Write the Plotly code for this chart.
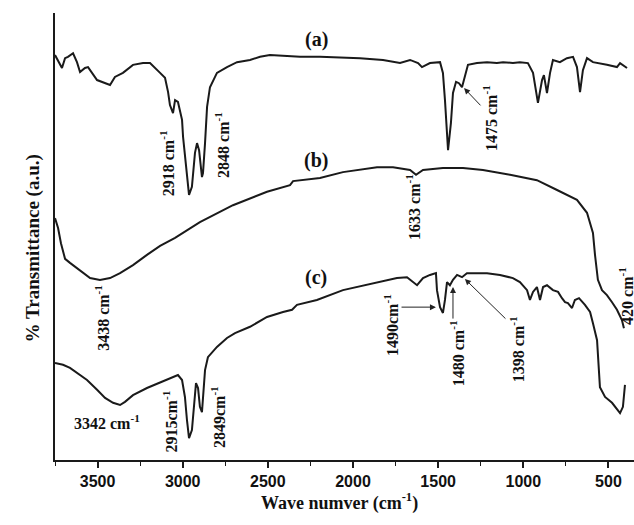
import plotly.graph_objects as go

# FTIR spectra: wavenumber (cm^-1) and transmittance (a.u., offset per sample)
wn_a = [3750, 3709, 3691, 3674, 3644, 3621, 3603, 3574, 3556, 3503, 3427, 3398, 3351, 3292,
        3233, 3192, 3133, 3104, 3086, 3075, 3057, 3045, 3028, 3004, 2998, 2975, 2963, 2946,
        2928, 2916, 2904, 2887, 2881, 2869, 2857, 2840, 2799, 2740, 2681, 2605, 2546, 2488,
        2311, 2194, 1959, 1824, 1724, 1665, 1618, 1595, 1548, 1489, 1472, 1460, 1442, 1425,
        1413, 1395, 1378, 1360, 1343, 1325, 1272, 1213, 1155, 1119, 1061, 1020, 973, 943,
        914, 890, 879, 861, 843, 826, 785, 744, 708, 685, 667, 650, 626, 591, 509, 450, 432, 391]
tr_a = [90.6, 87.7, 89.9, 90.2, 91.0, 89.0, 86.8, 87.7, 87.9, 85.0, 83.9, 85.7, 86.6, 88.4,
        88.8, 88.8, 86.6, 85.5, 82.3, 79.4, 77.6, 80.5, 80.1, 76.1, 72.3, 64.2, 59.3, 61.1,
        68.7, 70.9, 69.3, 63.3, 64.2, 70.9, 79.0, 83.4, 86.6, 87.9, 89.0, 89.5, 90.2, 90.6,
        90.2, 90.2, 89.9, 89.5, 88.8, 89.5, 88.8, 87.9, 88.8, 89.0, 86.6, 80.5, 69.3, 75.4,
        82.1, 84.6, 84.3, 83.4, 85.7, 88.4, 88.8, 89.0, 88.8, 89.0, 88.8, 89.0, 88.8, 86.6,
        79.9, 85.0, 86.1, 82.1, 86.6, 89.5, 89.0, 89.9, 90.2, 87.9, 82.3, 87.2, 89.9, 89.0,
        88.4, 87.9, 88.8, 87.7]

wn_b = [3750, 3732, 3715, 3703, 3691, 3662, 3603, 3544, 3486, 3427, 3368, 3292, 3210, 3133,
        3045, 2899, 2705, 2505, 2370, 2352, 2194, 2059, 1859, 1765, 1665, 1630, 1589, 1472,
        1354, 1237, 1078, 920, 802, 685, 626, 591, 579, 562, 538, 509, 479, 450, 421, 409]
tr_b = [54.1, 51.9, 48.5, 46.5, 45.0, 44.1, 42.5, 40.7, 40.3, 40.7, 41.8, 43.6, 45.9, 47.9,
        49.7, 53.2, 57.0, 60.0, 61.5, 62.4, 63.1, 64.4, 65.5, 65.5, 64.9, 63.8, 64.9, 65.3,
        65.3, 64.9, 63.8, 62.6, 60.4, 58.2, 55.3, 50.8, 45.9, 40.3, 38.0, 36.9, 35.3, 33.6,
        31.3, 29.5]

wn_c = [3750, 3703, 3662, 3621, 3562, 3503, 3456, 3409, 3368, 3339, 3292, 3210, 3133, 3057,
        3028, 3004, 2987, 2975, 2963, 2946, 2934, 2922, 2910, 2899, 2887, 2881, 2869, 2852,
        2799, 2740, 2693, 2605, 2505, 2411, 2358, 2329, 2212, 2059, 1859, 1742, 1683, 1665,
        1624, 1589, 1548, 1513, 1507, 1489, 1472, 1460, 1448, 1431, 1413, 1389, 1360, 1331,
        1213, 1137, 1061, 1020, 978, 961, 943, 920, 902, 884, 861, 826, 796, 773, 755, 738,
        714, 697, 673, 638, 608, 591, 567, 550, 520, 479, 450, 432, 415, 405, 403]
tr_c = [21.7, 21.3, 20.6, 19.5, 17.9, 15.7, 13.9, 12.8, 12.3, 13.0, 14.5, 16.1, 17.4, 18.6,
        19.0, 17.9, 14.1, 8.9, 4.9, 6.7, 11.9, 17.2, 16.1, 11.9, 10.7, 14.1, 20.1, 23.0,
        25.3, 27.3, 28.4, 29.8, 32.0, 33.1, 33.6, 34.7, 35.8, 38.0, 39.8, 40.7, 40.9, 40.3,
        39.1, 40.7, 41.4, 41.8, 38.0, 34.2, 32.9, 35.8, 39.8, 39.1, 40.3, 41.4, 40.9, 41.8,
        41.8, 41.4, 40.7, 39.8, 38.0, 35.8, 37.6, 38.7, 35.8, 38.7, 39.1, 38.0, 37.6, 36.2,
        35.3, 35.1, 34.0, 35.8, 36.2, 34.7, 33.1, 30.6, 26.8, 16.3, 14.1, 12.8, 11.2, 10.5,
        11.9, 15.0, 16.8]

# Sample labels (text, x, y)
sample_labels = [("(a)", 2215, 94.0), ("(b)", 2215, 67.1), ("(c)", 2215, 40.9)]

# Rotated band labels (text, x, y)
band_labels = [
    ("2918 cm<sup>-1</sup>", 3092, 66.4),
    ("2848 cm<sup>-1</sup>", 2769, 70.5),
    ("1475 cm<sup>-1</sup>", 1196, 76.5),
    ("1633 cm<sup>-1</sup>", 1648, 56.6),
    ("3438 cm<sup>-1</sup>", 3474, 31.8),
    ("2915cm<sup>-1</sup>", 3075, 8.6),
    ("2849cm<sup>-1</sup>", 2793, 9.6),
    ("1490cm<sup>-1</sup>", 1777, 30.2),
    ("1480 cm<sup>-1</sup>", 1389, 23.9),
    ("1398 cm<sup>-1</sup>", 1037, 24.8),
    ("420 cm<sup>-1</sup>", 397, 36.7),
]
# Horizontal band label
flat_label = ("3342 cm<sup>-1</sup>", 3445, 8.5)

# Arrows: (tail x, tail y, head x, head y)
arrows = [
    (1243, 79.0, 1348, 83.2),
    (1724, 34.2, 1513, 34.2),
    (1413, 31.3, 1413, 38.7),
    (1096, 31.3, 1343, 40.5),
]

x_ticks = [3500, 3000, 2500, 2000, 1500, 1000, 500]

line_style = dict(color="#1a1a1a", width=2)
serif = "Liberation Serif, Times New Roman, serif"

fig = go.Figure()
for wn, tr in [(wn_a, tr_a), (wn_b, tr_b), (wn_c, tr_c)]:
    fig.add_trace(go.Scatter(x=wn, y=tr, mode="lines", line=line_style,
                             showlegend=False, hoverinfo="skip"))

annotations = []
for txt, x, y in sample_labels:
    annotations.append(dict(text=txt, x=x, y=y, xref="x", yref="y", showarrow=False,
                            font=dict(family=serif, size=20, color="#111", weight="bold")))
for txt, x, y in band_labels:
    annotations.append(dict(text=txt, x=x, y=y, xref="x", yref="y", showarrow=False,
                            textangle=-90,
                            font=dict(family=serif, size=16, color="#111", weight="bold")))
annotations.append(dict(text=flat_label[0], x=flat_label[1], y=flat_label[2], xref="x",
                        yref="y", showarrow=False,
                        font=dict(family=serif, size=16, color="#111", weight="bold")))
for tx, ty, hx, hy in arrows:
    annotations.append(dict(x=hx, y=hy, ax=tx, ay=ty, xref="x", yref="y", axref="x",
                            ayref="y", text="", showarrow=True, arrowhead=2,
                            arrowsize=1.2, arrowwidth=1, arrowcolor="#222"))
# Axis titles
annotations.append(dict(text="Wave numver (cm<sup>-1</sup>)", x=0.492, y=-0.126,
                        xref="paper", yref="paper", showarrow=False,
                        font=dict(family=serif, size=18, color="#111", weight="bold")))
annotations.append(dict(text="% Transmittance (a.u.)", x=-0.06, y=0.474,
                        xref="paper", yref="paper", showarrow=False, textangle=-90,
                        font=dict(family=serif, size=19, color="#111", weight="bold")))

fig.update_layout(
    width=634, height=525,
    margin=dict(l=55, r=0, t=13, b=65),
    paper_bgcolor="white", plot_bgcolor="white",
    annotations=annotations,
    xaxis=dict(range=[3750, 350], tickvals=x_ticks, ticktext=[str(v) for v in x_ticks],
               showgrid=False, zeroline=False, showline=True, linecolor="#1a1a1a",
               linewidth=2, ticks="outside", ticklen=6, tickwidth=1.5, tickcolor="#1a1a1a",
               tickfont=dict(family="Liberation Sans, Arial, sans-serif", size=16,
                             color="#111", weight="bold"),
               minor=dict(ticks="outside", ticklen=4, tickwidth=1.2, tickcolor="#1a1a1a",
                          dtick=250, tick0=0, showgrid=False)),
    yaxis=dict(range=[0, 100], showgrid=False, zeroline=False, showline=True,
               linecolor="#1a1a1a", linewidth=2, showticklabels=False, ticks=""),
)

fig.write_html("out.html")
